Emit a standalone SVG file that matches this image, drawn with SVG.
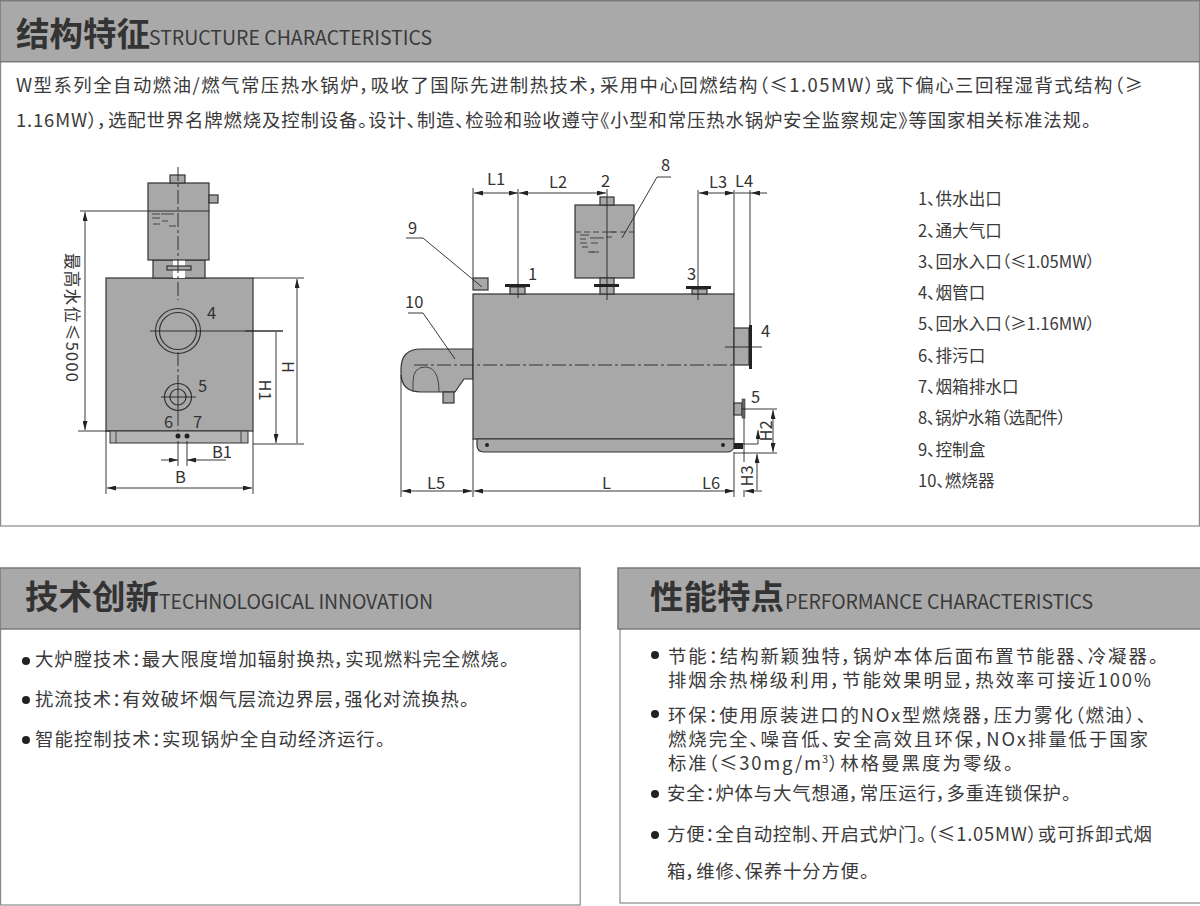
<svg xmlns="http://www.w3.org/2000/svg" width="1200" height="906" viewBox="0 0 1200 906">
<defs>
<marker id="arr" viewBox="0 0 9 5" refX="9" refY="2.5" markerWidth="9" markerHeight="5" orient="auto-start-reverse" markerUnits="userSpaceOnUse"><path d="M0 0L9 2.5L0 5Z" fill="#222"/></marker>
</defs>
<style>
text{font-family:"Noto Sans CJK SC","Noto Sans",sans-serif;fill:#3a3a3a}
.hd{fill:#a9a9a9;stroke:#7a7a7a;stroke-width:1.5}
.panel{fill:#fff;stroke:#8a8a8a;stroke-width:1.2}
.t1{font-size:33.5px;font-weight:700;fill:#333}
.t2{font-size:19.5px;fill:#3a3a3a}
.b{font-size:18.4px;font-feature-settings:'palt'}
.s{font-size:16.6px;font-feature-settings:'palt'}
.n{font-size:16.5px;fill:#333}
.m{fill:#a8a8a8;stroke:#333;stroke-width:1.2}
.l{fill:none;stroke:#222;stroke-width:.9}
.c{fill:none;stroke:#333;stroke-width:1;stroke-dasharray:14 3 3 3}
.d{fill:none;stroke:#222;stroke-width:.9;marker-start:url(#arr);marker-end:url(#arr)}
.e{fill:none;stroke:#222;stroke-width:.9;marker-end:url(#arr)}
.k{fill:#222;stroke:none}
.w{fill:none;stroke:#444;stroke-width:1}
</style>
<rect width="1200" height="906" fill="#fff"/>

<g id="panel-structure">
<rect class="panel" x="0.6" y="40" width="1198.8" height="486"/>
<rect class="hd" x="0" y="0.7" width="1200" height="61"/>
<text class="t1" x="16" y="46">结构特征</text>
<text class="t2" x="149" y="45" textLength="283">STRUCTURE CHARACTERISTICS</text>
<text class="b" x="16" y="92" textLength="1127">W型系列全自动燃油/燃气常压热水锅炉，吸收了国际先进制热技术，采用中心回燃结构（≤1.05MW）或下偏心三回程湿背式结构（≥</text>
<text class="b" x="16" y="127" textLength="1075">1.16MW），选配世界名牌燃烧及控制设备。设计、制造、检验和验收遵守《小型和常压热水锅炉安全监察规定》等国家相关标准法规。</text>
</g>

<g id="panel-technology">
<rect class="panel" x="0.6" y="600" width="579.6" height="305"/>
<rect class="hd" x="0" y="568" width="580" height="61"/>
<text class="t1" x="25" y="609">技术创新</text>
<text class="t2" x="159" y="609" textLength="274">TECHNOLOGICAL INNOVATION</text>
<circle class="k" cx="26" cy="661" r="4"/>
<text class="b" x="35" y="666" textLength="474">大炉膛技术：最大限度增加辐射换热，实现燃料完全燃烧。</text>
<circle class="k" cx="26" cy="700" r="4"/>
<text class="b" x="35" y="706" textLength="434">扰流技术：有效破坏烟气层流边界层，强化对流换热。</text>
<circle class="k" cx="26" cy="740" r="4"/>
<text class="b" x="35" y="746" textLength="350">智能控制技术：实现锅炉全自动经济运行。</text>
</g>

<g id="panel-performance">
<rect class="panel" x="620" y="600" width="582" height="303"/>
<rect class="hd" x="618" y="568" width="584" height="61"/>
<text class="t1" x="650" y="609">性能特点</text>
<text class="t2" x="785" y="609" textLength="308">PERFORMANCE CHARACTERISTICS</text>
<circle class="k" cx="655" cy="655" r="4"/>
<text class="b" x="668" y="663" textLength="490">节能：结构新颖独特，锅炉本体后面布置节能器、冷凝器。</text>
<text class="b" x="668" y="687" textLength="483">排烟余热梯级利用，节能效果明显，热效率可接近100%</text>
<circle class="k" cx="655" cy="714" r="4"/>
<text class="b" x="668" y="722" textLength="478">环保：使用原装进口的NOx型燃烧器，压力雾化（燃油）、</text>
<text class="b" x="668" y="746" textLength="480">燃烧完全、噪音低、安全高效且环保，NOx排量低于国家</text>
<text class="b" x="668" y="770" textLength="153">标准（≤30mg/m</text>
<text class="b" x="822" y="763" style="font-size:11px">3</text>
<text class="b" x="829" y="770" textLength="184">）林格曼黑度为零级。</text>
<circle class="k" cx="655" cy="794" r="4"/>
<text class="b" x="667" y="800" textLength="404">安全：炉体与大气想通，常压运行，多重连锁保护。</text>
<circle class="k" cx="655" cy="835" r="4"/>
<text class="b" x="667" y="841" textLength="485">方便：全自动控制、开启式炉门。（≤1.05MW）或可拆卸式烟</text>
<text class="b" x="667" y="878" textLength="202">箱，维修、保养十分方便。</text>
</g>

<g id="front-view">
<rect class="m" x="106" y="278" width="147" height="153"/>
<rect x="110" y="431" width="138" height="12" fill="#b4b4b4" stroke="#333"/>
<path class="w" d="M116 431V443M241 431V443"/>
<rect class="m" x="153" y="260" width="52" height="18"/>
<rect x="173" y="260" width="12" height="18" fill="#fff"/>
<rect class="m" x="167" y="266" width="24" height="4"/>
<rect class="m" x="148" y="183" width="61" height="77"/>
<rect class="m" x="170" y="175" width="15" height="8"/>
<rect class="m" x="209" y="195" width="9" height="8"/>
<path class="w" d="M152 214H160M152 218H160M161 214H174M162 221H168M153 224H160M169 226H176"/>
<circle cx="178" cy="331" r="22.5" class="m"/>
<circle cx="178" cy="331" r="18.5" class="m"/>
<circle cx="178" cy="397" r="13.5" class="m"/>
<circle cx="178" cy="397" r="8" class="m"/>
<circle class="k" cx="178" cy="436" r="2.5"/>
<circle class="k" cx="187" cy="436" r="2.5"/>
</g>

<g id="side-view">
<path class="m" d="M473 349H421Q401 349 401 369V373Q401 392 421 392H455L464 379H473Z"/>
<path class="w" d="M413 392V382Q413 367 425 367Q439 367 439 392"/>
<rect class="m" x="443" y="392" width="11" height="11"/>
<rect class="m" x="473" y="278" width="15" height="12"/>
<rect class="m" x="473" y="294" width="261" height="145"/>
<path class="m" d="M477 439H734V447Q733 452 727 452H484Q477 452 477 445Z"/>
<circle class="k" cx="487" cy="445" r="2"/>
<circle class="k" cx="723" cy="445" r="2"/>
<rect class="m" x="575" y="205" width="59" height="73"/>
<rect class="m" x="600" y="197" width="14" height="8"/>
<rect class="m" x="600" y="278" width="14" height="16"/>
<rect class="k" x="594" y="284" width="25" height="3"/>
<rect class="m" x="510" y="287" width="15" height="7"/>
<rect class="k" x="505" y="284" width="25" height="3"/>
<rect class="m" x="692" y="289" width="15" height="5"/>
<rect class="k" x="686" y="286" width="25" height="3"/>
<rect class="m" x="734" y="328" width="15" height="37"/>
<rect class="k" x="749" y="325" width="3" height="44"/>
<rect class="m" x="734" y="403" width="8" height="12"/>
<rect x="742" y="399" width="3" height="19" fill="#666" stroke="#333" stroke-width=".6"/>
<rect class="k" x="734" y="443" width="9" height="6"/>
<path class="w" d="M580 235H589M580 239H586M590 238H604M580 243H587M591 243H598M582 247H588M588 252H594M591 252H599M606 237H612M608 232H616"/>
<path class="w" stroke-dasharray="6 3" d="M575 232H634"/>
</g>

<g id="connectors">
<path class="c" d="M178 167V300M178 352V382M178 412V431"/>
<path class="l" d="M150 331H283M161 397H196M178 382V412"/>
<path class="l" d="M80 211H209M78 431H110"/>
<path class="d" d="M85 212V430"/>
<path class="l" d="M253 278H304M253 444H304M245 331H283"/>
<path class="d" d="M297 279V443M276 332V443"/>
<path class="l" d="M178 441V466M187 441V466"/>
<path class="e" d="M161 460H178"/>
<path class="e" d="M195 460H187"/>
<path class="l" d="M195 460H226"/>
<path class="l" d="M106 431V494M253 431V494"/>
<path class="d" d="M107 488H252"/>

<path class="c" d="M414 365H734"/>
<path class="l" d="M473 188V278M473 439V497M518 189V298M607 189V300M698 190V300M734 190V294M750 190V325M734 452V497M401 375V497"/>
<path class="d" d="M474 193H518"/>
<path class="d" d="M519 193H606"/>
<path class="d" d="M699 193H734"/>
<path class="l" d="M735 193H751"/>
<path class="e" d="M767 193H751"/>
<path class="d" d="M402 491H472"/>
<path class="d" d="M474 491H734"/>
<path class="l" d="M734 444H758M734 453H777M742 409H777"/>
<path class="l" d="M744 418V462M744 490V497"/>
<path class="d" d="M773 410V452"/>
<path class="e" d="M758 444V430"/>
<path class="e" d="M757 490V454"/>
<path class="e" d="M762 491H745"/>
<path class="l" d="M406 238H423L482 287M408 313H423L455 359M671 177H657L622 238"/>
<path class="l" d="M725 347H762"/>
</g>

<g id="labels">
<text class="n" transform="translate(66 253) rotate(90)" x="0" y="0" textLength="129">最高水位≤5000</text>
<text class="n" x="207" y="319">4</text>
<text class="n" x="198" y="392">5</text>
<text class="n" x="164" y="428">6</text>
<text class="n" x="193" y="428">7</text>
<text class="n" x="212" y="458">B1</text>
<text class="n" x="175" y="483">B</text>
<text class="n" transform="translate(282 367) rotate(90)" text-anchor="middle" x="0" y="0">H</text>
<text class="n" transform="translate(259 390) rotate(90)" text-anchor="middle" x="0" y="0">H1</text>
<text class="n" x="487" y="185">L1</text>
<text class="n" x="549" y="188">L2</text>
<text class="n" x="601" y="187">2</text>
<text class="n" x="661" y="171">8</text>
<text class="n" x="709" y="188">L3</text>
<text class="n" x="735" y="187">L4</text>
<text class="n" x="408" y="234">9</text>
<text class="n" x="528" y="280">1</text>
<text class="n" x="687" y="280">3</text>
<text class="n" x="405" y="308">10</text>
<text class="n" x="761" y="337">4</text>
<text class="n" x="751" y="403">5</text>
<text class="n" x="427" y="489">L5</text>
<text class="n" x="602" y="489">L</text>
<text class="n" x="702" y="489">L6</text>
<text class="n" transform="translate(772 431) rotate(-90)" text-anchor="middle" x="0" y="0">H2</text>
<text class="n" transform="translate(753 476) rotate(-90)" text-anchor="middle" x="0" y="0">H3</text>
</g>

<g id="legend">
<text class="s" x="918" y="205">1、供水出口</text>
<text class="s" x="918" y="237">2、通大气口</text>
<text class="s" x="918" y="268" textLength="177">3、回水入口（≤1.05MW）</text>
<text class="s" x="918" y="299">4、烟管口</text>
<text class="s" x="918" y="330" textLength="177">5、回水入口（≥1.16MW）</text>
<text class="s" x="918" y="362">6、排污口</text>
<text class="s" x="918" y="393">7、烟箱排水口</text>
<text class="s" x="918" y="424" textLength="148">8、锅炉水箱（选配件）</text>
<text class="s" x="918" y="456">9、控制盒</text>
<text class="s" x="918" y="487">10、燃烧器</text>
</g>
</svg>
